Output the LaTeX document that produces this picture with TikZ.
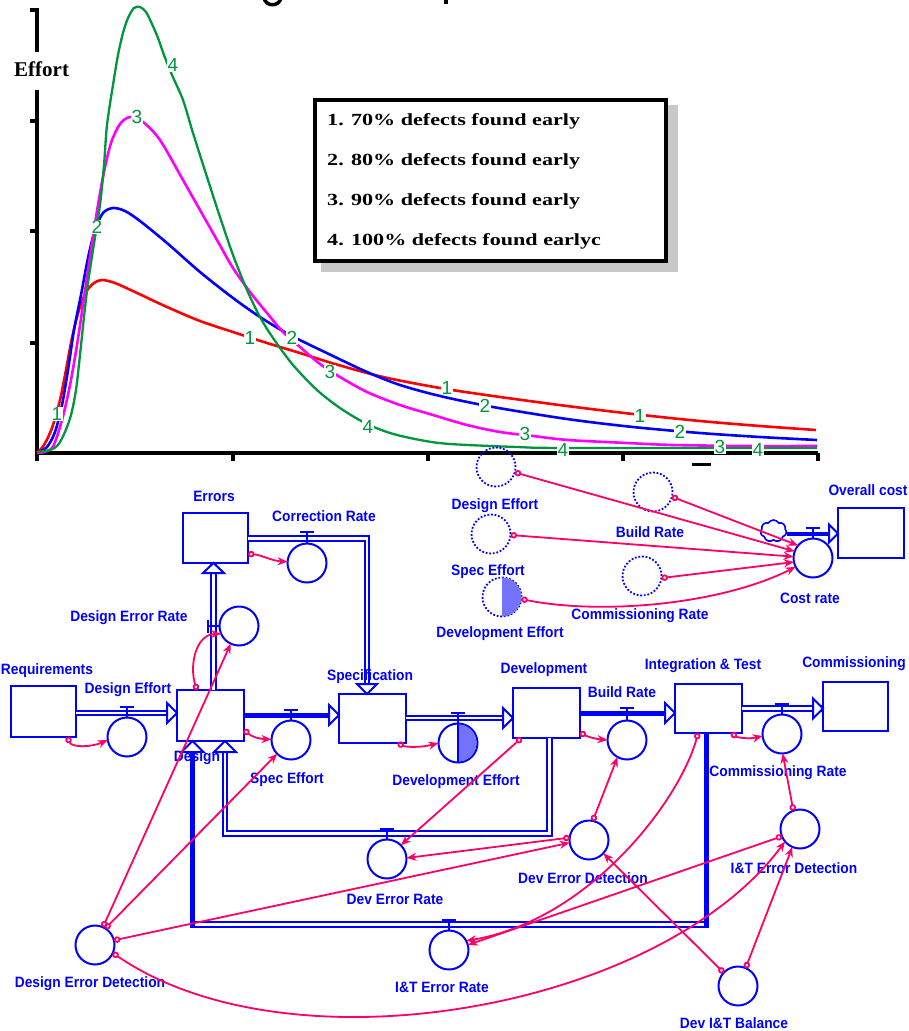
\documentclass[tikz,border=0pt]{standalone}
\usepackage{fontspec}
\usetikzlibrary{arrows.meta,shapes.symbols}
\newfontfamily\labfont[FakeStretch=0.92]{Liberation Sans}
\newfontfamily\numfont{Liberation Sans}
\newfontfamily\legfont[FakeStretch=1.3]{Liberation Serif}
\definecolor{sfblue}{RGB}{0,0,255}
\definecolor{linkpink}{RGB}{255,0,102}
\definecolor{run1}{RGB}{255,0,0}
\definecolor{run2}{RGB}{0,0,255}
\definecolor{run3}{RGB}{255,0,255}
\definecolor{run4}{RGB}{0,150,60}
\definecolor{legshadow}{RGB}{200,200,200}
\begin{document}
\begin{tikzpicture}[x=1pt,y=-1pt,
  stock/.style={draw=sfblue,line width=2.5pt,fill=white,rectangle,inner sep=0pt,outer sep=0pt},
  conv/.style={draw=sfblue,line width=2pt,fill=white,circle,minimum size=39pt,inner sep=0pt,outer sep=0pt},
  ghost/.style={draw=sfblue,line width=1.8pt,dash pattern=on 1.8pt off 1.8pt,circle,minimum size=39pt,inner sep=0pt,outer sep=0pt},
  lab/.style={text=sfblue,font=\labfont\bfseries\fontsize{15}{17}\selectfont,inner sep=0pt},
  pipe/.style={draw=sfblue,line width=2pt,double=white,double distance=2.2pt,line join=miter},
  spipe/.style={draw=sfblue,line width=5pt},
  head/.style={draw=sfblue,line width=2pt,fill=white,line join=miter},
  valve/.style={draw=sfblue,line width=2.5pt},
  stem/.style={draw=sfblue,line width=2pt},
  link/.style={draw=linkpink,line width=1.8pt,{Circle[open,length=6.5pt,width=6.5pt]}-{Stealth[length=10pt,width=8pt]}},
  axis/.style={draw=black,line width=3.5pt},
  runline/.style={line width=2.6pt,line join=round},
  runnum/.style={text=run4,font=\numfont\fontsize{19}{19}\selectfont,fill=white,inner sep=0.3pt},
  legtext/.style={anchor=base west,inner sep=0pt,font=\legfont\bfseries\fontsize{17}{17}\selectfont},
  halffill/.style={fill=sfblue!55}
]
\useasboundingbox (0,0) rectangle (909,1031);
\fill[white] (0,0) rectangle (909,1031);

% ---------- effort chart ----------
% title descenders at the upper edge
\draw[line width=3.5pt] (264,-2) .. controls (266,7) and (279,7) .. (281,-2);
\fill (444,0) rectangle (448,4);

% axes and ticks
\draw[axis] (37,8) -- (37,52);
\draw[axis] (37,90) -- (37,455);
\draw[axis] (37,453) -- (818,453);
\foreach \ty in {10,121,231,343} \draw[axis] (30,\ty) -- (37,\ty);
\foreach \tx in {37,233,428,623,818} \draw[axis] (\tx,453) -- (\tx,461);
\draw[line width=3pt] (692,464) -- (711,464);
\node[anchor=base west,inner sep=0pt,font=\fontspec{Liberation Serif}\bfseries\fontsize{21}{21}\selectfont] (yl) at (14,76) {Effort};

% the four runs
\draw[runline,run1] plot[smooth,tension=0.5] coordinates {(37,453) (44,445) (52,428) (60,400) (66,370) (72,338) (79,310) (86,292) (94,283) (102,280) (115,283) (135,292) (167,307) (200,321) (233,332) (267,343) (300,353) (335,364) (383,377) (440,388) (493,396) (567,406) (633,414) (700,421) (760,426) (816,430)};
\draw[runline,run2] plot[smooth,tension=0.5] coordinates {(37,453) (47,447) (55,432) (62,405) (68,370) (74,330) (81,295) (88,258) (95,230) (103,213) (113,208) (125,211) (140,221) (167,243) (200,272) (233,298) (260,317) (290,335) (333,356) (367,372) (400,385) (440,396) (493,407) (567,419) (633,427) (700,433) (760,437) (817,440)};
\draw[runline,run3] plot[smooth,tension=0.5] coordinates {(37,453) (52,448) (62,420) (70,385) (77,345) (84,298) (91,250) (98,205) (104,172) (111,143) (120,124) (130,117) (143,122) (160,140) (183,180) (200,210) (217,240) (233,268) (250,292) (267,313) (283,332) (300,347) (320,364) (340,377) (367,392) (400,405) (433,415) (467,425) (500,432) (533,436) (568,440) (627,443) (673,445) (750,446) (817,446)};
\draw[runline,run4,line width=2.3pt] plot[smooth,tension=0.5] coordinates {(37,452) (50,450) (58,445) (65,432) (71,415) (76,390) (80,355) (84,317) (88,283) (93,250) (100,205) (104,165) (107,125) (113,85) (118,55) (123,33) (128,18) (134,8) (140,7) (146,12) (152,24) (158,38) (164,55) (172,75) (183,100) (193,133) (207,177) (220,217) (233,255) (247,290) (260,317) (273,338) (293,365) (317,390) (340,408) (365,423) (390,433) (420,440) (450,444) (517,447) (567,448) (817,448)};

% run numbers
\node[runnum] (r1a) at (57,414) {1};
\node[runnum] (r1b) at (250,338) {1};
\node[runnum] (r1c) at (447,388) {1};
\node[runnum] (r1d) at (640,416) {1};
\node[runnum] (r2a) at (97,227) {2};
\node[runnum] (r2b) at (292,338) {2};
\node[runnum] (r2c) at (485,406) {2};
\node[runnum] (r2d) at (680,432) {2};
\node[runnum] (r3a) at (137,117) {3};
\node[runnum] (r3b) at (330,372) {3};
\node[runnum] (r3c) at (525,434) {3};
\node[runnum] (r3d) at (720,447) {3};
\node[runnum] (r4a) at (173,65) {4};
\node[runnum] (r4b) at (368,427) {4};
\node[runnum] (r4c) at (563,450) {4};
\node[runnum] (r4d) at (758,450) {4};

% legend
\fill[legshadow] (321,105) rectangle (678,272);
\draw[line width=4pt,fill=white] (315,100) rectangle (666,261);
\node[legtext] (lg1) at (327,125) {1. 70\% defects found early};
\node[legtext] (lg2) at (327,165) {2. 80\% defects found early};
\node[legtext] (lg3) at (327,205) {3. 90\% defects found early};
\node[legtext] (lg4) at (327,245) {4. 100\% defects found earlyc};

% ---------- stock and flow model ----------
\coordinate (yde) at (0,713);
\coordinate (yse) at (0,715);
\coordinate (ydv) at (0,718);
\coordinate (ybr) at (0,713);
\coordinate (ycm) at (0,708.5);
\coordinate (yer) at (0,538.5);
\coordinate (ycost) at (0,533.5);
\coordinate (xdr) at (213.5,0);
\coordinate (xsp) at (367,0);

% stocks
\node[stock,minimum width=65pt,minimum height=51pt] (req) at (43.5,711.5) {};
\node[stock,minimum width=65pt,minimum height=50pt] (errors) at (215.5,538) {};
\node[stock,minimum width=67pt,minimum height=51pt] (design) at (210.5,715.5) {};
\node[stock,minimum width=67pt,minimum height=49pt] (spec) at (372.5,718.5) {};
\node[stock,minimum width=67pt,minimum height=50pt] (dev) at (546.5,713) {};
\node[stock,minimum width=67pt,minimum height=49pt] (it) at (708.5,708.5) {};
\node[stock,minimum width=65pt,minimum height=49pt] (comm) at (855.5,706.5) {};
\node[stock,minimum width=66pt,minimum height=50pt] (overall) at (871,533) {};

% flows
\draw[pipe] (req.east |- yde) -- (design.west |- yde);
\draw[head] (design.west |- yde) -- ++(-10,-10) -- ++(0,20) -- cycle;
\draw[spipe] (design.east |- yse) -- (spec.west |- yse);
\draw[head] (spec.west |- yse) -- ++(-10,-10) -- ++(0,20) -- cycle;
\draw[pipe] (spec.east |- ydv) -- (dev.west |- ydv);
\draw[head] (dev.west |- ydv) -- ++(-10,-10) -- ++(0,20) -- cycle;
\draw[spipe] (dev.east |- ybr) -- (it.west |- ybr);
\draw[head] (it.west |- ybr) -- ++(-10,-10) -- ++(0,20) -- cycle;
\draw[pipe] (it.east |- ycm) -- (comm.west |- ycm);
\draw[head] (comm.west |- ycm) -- ++(-10,-10) -- ++(0,20) -- cycle;

\draw[pipe] (design.north -| xdr) -- (errors.south -| xdr);
\draw[head] (errors.south -| xdr) -- ++(-10.5,10) -- ++(21,0) -- cycle;
\draw[pipe] (errors.east |- yer) -- (xsp |- yer) -- (spec.north -| xsp);
\draw[head] (spec.north -| xsp) -- ++(-10,-10) -- ++(20,0) -- cycle;

% rework back into design
\draw[pipe] (549.5,738) -- (549.5,833.5) -- (225,833.5) -- (225,752);
\draw[head] (225,741) -- ++(-11,11) -- ++(22,0) -- cycle;
\draw[pipe] (708.5,924.5) -- (190,924.5);
\draw[spipe] (706,733) -- (706,927.5);
\draw[spipe] (192.5,927.5) -- (192.5,752);
\draw[head] (192.5,741) -- ++(-11,11) -- ++(22,0) -- cycle;

% cost accumulation
\node[cloud,cloud puffs=7,cloud puff arc=120,aspect=1.3,draw=sfblue,line width=1.6pt,minimum width=26pt,minimum height=22pt,inner sep=0pt] (src) at (773.5,531) {};
\draw[spipe,line width=4pt] (src.east |- ycost) -- (overall.west |- ycost);
\draw[head] (overall.west |- ycost) -- ++(-9,-9) -- ++(0,18) -- cycle;

% converters
\node[conv] (de) at (127,737) {};
\node[conv] (se) at (291,740) {};
\node[conv] (deff) at (458,743) {};
\node[conv] (br) at (627,740) {};
\node[conv] (cr) at (782,734) {};
\node[conv] (corr) at (307,563) {};
\node[conv] (der) at (239,626) {};
\node[conv] (devr) at (387,859) {};
\node[conv] (iter) at (449,950) {};
\node[conv] (deved) at (589,840) {};
\node[conv] (ited) at (800,829) {};
\node[conv] (dib) at (738,986) {};
\node[conv] (ded) at (95,945) {};
\node[conv] (costr) at (813,558) {};

\begin{scope}
  \clip (458,720) rectangle (480,766);
  \fill[halffill] (deff.center) circle[radius=18.5pt];
\end{scope}
\draw[stem] (deff.north) -- (deff.south);

% ghost copies
\node[ghost] (gde) at (496,467) {};
\node[ghost] (gse) at (491,534) {};
\node[ghost] (gdeff) at (502,597) {};
\node[ghost] (gbr) at (653,492) {};
\node[ghost] (gcr) at (642,576) {};
\begin{scope}
  \clip (502,575) rectangle (525,620);
  \fill[halffill] (gdeff.center) circle[radius=19.5pt];
\end{scope}

% valves
\draw[valve] (120,707) -- (134,707);  \draw[stem] (127,707) -- (de.north);
\draw[valve] (284,710) -- (298,710);  \draw[stem] (291,710) -- (se.north);
\draw[valve] (451,713) -- (465,713);  \draw[stem] (458,713) -- (deff.north);
\draw[valve] (620,708) -- (634,708);  \draw[stem] (627,708) -- (br.north);
\draw[valve] (775,704) -- (789,704);  \draw[stem] (782,704) -- (cr.north);
\draw[valve] (300,532) -- (314,532);  \draw[stem] (307,532) -- (corr.north);
\draw[valve] (208,620) -- (208,633);  \draw[stem] (208,626) -- (der.west);
\draw[valve] (380,829) -- (394,829);  \draw[stem] (387,829) -- (devr.north);
\draw[valve] (442,920) -- (456,920);  \draw[stem] (449,920) -- (iter.north);
\draw[valve] (806,528) -- (820,528);  \draw[stem] (813,528) -- (costr.north);

% labels
\node[lab] (lErrors) at (214,496) {Errors};
\node[lab] (lCorr) at (324,516) {Correction Rate};
\node[lab] (lDer) at (129,618) {Design Error Rate};
\node[lab] (lReq) at (47,671) {Requirements};
\node[lab] (lDe) at (128,690) {Design Effort};
\node[lab] (lDesign) at (197,758) {Design};
\node[lab] (lSe) at (287,780) {Spec Effort};
\node[lab] (lSpec) at (370,677) {Specification};
\node[lab] (lDeff) at (456,782) {Development Effort};
\node[lab] (lDev) at (544,670) {Development};
\node[lab] (lBr) at (622,692) {Build Rate};
\node[lab] (lIt) at (703,666) {Integration \& Test};
\node[lab] (lComm) at (854,664) {Commissioning};
\node[lab] (lCr) at (778,773) {Commissioning Rate};
\node[lab] (lDevr) at (395,899) {Dev Error Rate};
\node[lab] (lDeved) at (583,878) {Dev Error Detection};
\node[lab] (lIted) at (794,868) {I\&T Error Detection};
\node[lab] (lIter) at (442,987) {I\&T Error Rate};
\node[lab] (lDib) at (734,1023) {Dev I\&T Balance};
\node[lab] (lDed) at (90,984) {Design Error Detection};
\node[lab] (lgDe) at (495,506) {Design Effort};
\node[lab] (lgSe) at (488,572) {Spec Effort};
\node[lab] (lgDeff) at (500,634) {Development Effort};
\node[lab] (lgBr) at (650,532) {Build Rate};
\node[lab] (lgCr) at (640,616) {Commissioning Rate};
\node[lab] (lCostr) at (810,598) {Cost rate};
\node[lab] (lOverall) at (868,490) {Overall cost};

% information links
\draw[link] (req.-47) .. controls (72,748) and (92,747) .. (de.189);
\draw[link] (errors.-26) .. controls (262,555) and (272,561) .. (corr.176);
\draw[link] (design.118) .. controls (189,665) and (196,634) .. (der.204);
\draw[link] (ded.66) -- (der.245);
\draw[link] (ded.58) -- (se.225);
\draw[link] (ded.14) -- (deved.188);
\draw[link] (ded.-24) .. controls (290,1075) and (660,1010) .. (ited.220);
\draw[link] (deved.173) -- (devr.3);
\draw[link] (dev.225) -- (devr.45);
\draw[link] (deved.79) -- (br.241);
\draw[link] (dib.137) -- (deved.-43);
\draw[link] (dib.67) -- (ited.247);
\draw[link] (ited.202) -- (iter.15);
\draw[link] (it.247) .. controls (680,800) and (590,920) .. (iter.28);
\draw[link] (ited.110) -- (cr.272);
\draw[link] (dev.-30) .. controls (588,737) and (596,739) .. (br.180);
\draw[link] (spec.-44) .. controls (405,747) and (420,748) .. (deff.180);
\draw[link] (design.-23) .. controls (252,737) and (260,739) .. (se.178);
\draw[link] (it.-47) .. controls (738,738) and (750,739) .. (cr.186);
\draw[link] (gde.-16) -- (costr.160);
\draw[link] (gbr.-14) -- (costr.140);
\draw[link] (gse.-3) -- (costr.176);
\draw[link] (gcr.-6) -- (costr.192);
\draw[link] (gdeff.-6) .. controls (600,615) and (720,605) .. (costr.207);
\end{tikzpicture}
\end{document}
